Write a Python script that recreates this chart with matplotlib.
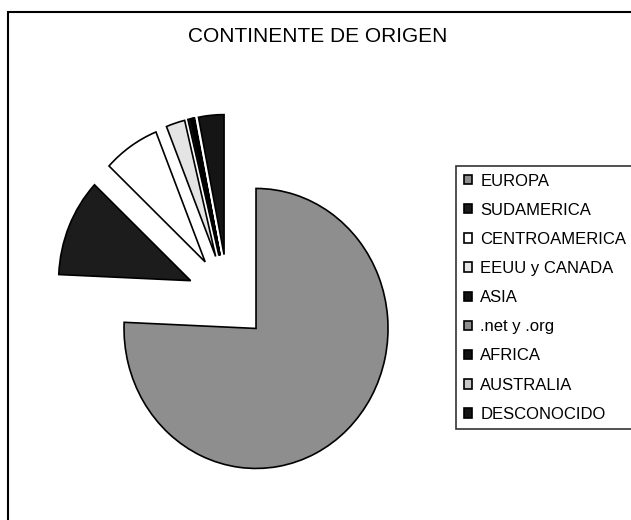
import matplotlib
matplotlib.use("Agg")
import matplotlib.pyplot as plt
from matplotlib.patches import Rectangle

# continent of origin, share in percent
labels = ["EUROPA", "SUDAMERICA", "CENTROAMERICA", "EEUU y CANADA", "ASIA",
          ".net y .org", "AFRICA", "AUSTRALIA", "DESCONOCIDO"]
shares = [75.6, 11.3, 6.9, 2.3, 0.35, 0.15, 0.1, 0.07, 3.1]
colors = ["#8e8e8e", "#1c1c1c", "#ffffff", "#e4e4e4", "#111111",
          "#8e8e8e", "#111111", "#c8c8c8", "#151515"]

W, H = 631, 520
plt.rcParams["font.family"] = ["Liberation Sans", "DejaVu Sans"]

fig = plt.figure(figsize=(W / 100, H / 100), dpi=100)
fig.patch.set_facecolor("white")

# axes covers the whole figure; pie centre at (228, 297) px, radius 132 x 140 px
cx, cy, rx, ry = 228.0, 297.4, 132.0, 140.0
ax = fig.add_axes([0, 0, 1, 1])
wedges, _ = ax.pie(shares, colors=colors, startangle=90, counterclock=False,
                   explode=[0.307] * len(shares),
                   wedgeprops=dict(edgecolor="black", linewidth=1.2))
ax.set_aspect("auto")
ax.set_xlim(-cx / rx, (W - cx) / rx)
ax.set_ylim((cy - H) / ry, cy / ry)
ax.axis("off")

# outer chart frame
fig.patches.append(Rectangle((8 / W, -0.02), 1.05, 1 - 12 / H + 0.02,
                             transform=fig.transFigure, fill=False,
                             edgecolor="black", linewidth=1.5))

fig.text(318 / W, 1 - 37 / H, "CONTINENTE DE ORIGEN", ha="center", va="center",
         fontsize=15)

leg = fig.legend(wedges, labels, loc="upper left",
                 bbox_to_anchor=(456 / W, 1 - 166 / H), fontsize=12,
                 handlelength=0.5, handleheight=0.5, handletextpad=0.5,
                 labelspacing=0.85, borderpad=0.45, borderaxespad=0,
                 fancybox=False, frameon=True)
leg.get_frame().set_edgecolor("black")
leg.get_frame().set_linewidth(1.2)

fig.savefig("out.png", dpi=100)
